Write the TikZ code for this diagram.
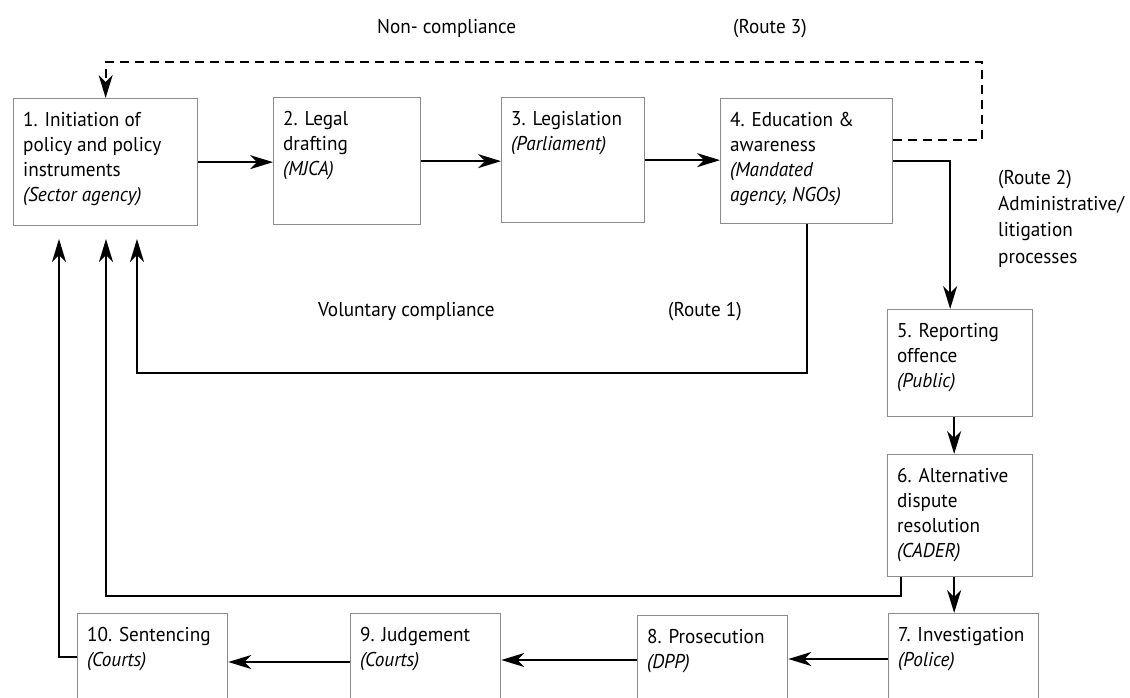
\documentclass[tikz,border=0pt]{standalone}
\usepackage{fontspec}
\setmainfont{PT Sans}[FakeStretch=0.96]
\usetikzlibrary{arrows.meta,calc}
\newcommand\bxt[3]{\parbox[c][\dimexpr #2pt-21pt\relax][t]{\dimexpr #1pt-19pt\relax}{\raggedright\strut #3}}
\begin{document}
\begin{tikzpicture}[x=1pt,y=-1pt,
  every node/.style={font=\fontsize{20}{25}\selectfont},
  box/.style={draw=black!45, line width=1.3pt, anchor=north west, inner xsep=9.5pt, inner ysep=10.5pt, fill=white},
  lbl/.style={anchor=base west, inner sep=0pt},
  arr/.style={line width=2.2pt, -{Stealth[length=23pt,width=14pt,inset=7pt]}},
  dsh/.style={arr, dash pattern=on 9pt off 6pt}]
\useasboundingbox (0,0) rectangle (1130,698);
\clip (0,0) rectangle (1130,698);

% boxes
\node[box] (b1) at (13,98) {\bxt{184}{127}{1. Initiation of\\policy and policy\\instruments\\\textit{(Sector agency)}}};
\node[box] (b2) at (273,97) {\bxt{147}{127}{2. Legal\\drafting\\\textit{(MJCA)}}};
\node[box] (b3) at (501,97) {\bxt{143}{125}{3. Legislation\\\textit{(Parliament)}}};
\node[box] (b4) at (720,98) {\bxt{172}{125}{4. Education \&\\awareness\\\textit{(Mandated\\agency, NGOs)}}};
\node[box] (b5) at (887,309) {\bxt{145}{107}{5. Reporting\\offence\\\textit{(Public)}}};
\node[box] (b6) at (887,454) {\bxt{145}{122}{6. Alternative\\dispute\\resolution\\\textit{(CADER)}}};
\node[box] (b7) at (888,613) {\bxt{150}{125}{7. Investigation\\\textit{(Police)}}};
\node[box] (b8) at (637,615) {\bxt{150}{125}{8. Prosecution\\\textit{(DPP)}}};
\node[box] (b9) at (350,613) {\bxt{150}{125}{9. Judgement\\\textit{(Courts)}}};
\node[box] (b10) at (77,613) {\bxt{150}{125}{10. Sentencing\\\textit{(Courts)}}};

% labels
\node[lbl] (nc) at (377,34) {Non- compliance};
\node[lbl] (rt3) at (733,34) {(Route 3)};
\node[lbl] (rt2) at (998,184) {(Route 2)};
\node[lbl] (adm) at (998,210) {\fontsize{20}{26.5}\selectfont\parbox[t]{140pt}{Administrative/\\litigation\\processes}};
\node[lbl] (vc) at (318,316) {Voluntary compliance};
\node[lbl] (rt1) at (668,316) {(Route 1)};

% helper coordinates
\coordinate (c3) at (982,62);
\coordinate (c1) at (137,373);
\coordinate (t1) at (137,239);
\coordinate (c2) at (106,596);
\coordinate (t2) at (106,239);
\coordinate (t3) at (59,239);

% connectors
\draw[arr] (b1.east) -- (b1.east -| b2.west);
\draw[arr] (b2.east) -- (b2.east -| b3.west);
\draw[arr] (b3.east) -- (b3.east -| b4.west);
\draw[arr] (b4.east) -| ([xshift=-10pt]b5.north);
\draw[dsh] ([yshift=21pt]b4.east) -| (c3) -| (b1.north);
\draw[arr] (b4.south) |- (c1) -- (t1);
\draw[arr] ([xshift=-6pt]b5.south) -- ([xshift=-6pt]b5.south |- b6.north);
\draw[arr] ([xshift=-6pt]b6.south) -- ([xshift=-6pt]b6.south |- b7.north);
\draw[arr] ([xshift=14pt]b6.south west) |- (c2) -- (t2);
\draw[arr] ([yshift=-46pt]b7.north west) -- ([yshift=-46pt]b7.north west -| b8.east);
\draw[arr] ([yshift=-45pt]b8.north west) -- ([yshift=-45pt]b8.north west -| b9.east);
\draw[arr] ([yshift=-49pt]b9.north west) -- ([yshift=-49pt]b9.north west -| b10.east);
\draw[arr] ([yshift=-44pt]b10.north west) -| (t3);
\end{tikzpicture}
\end{document}
